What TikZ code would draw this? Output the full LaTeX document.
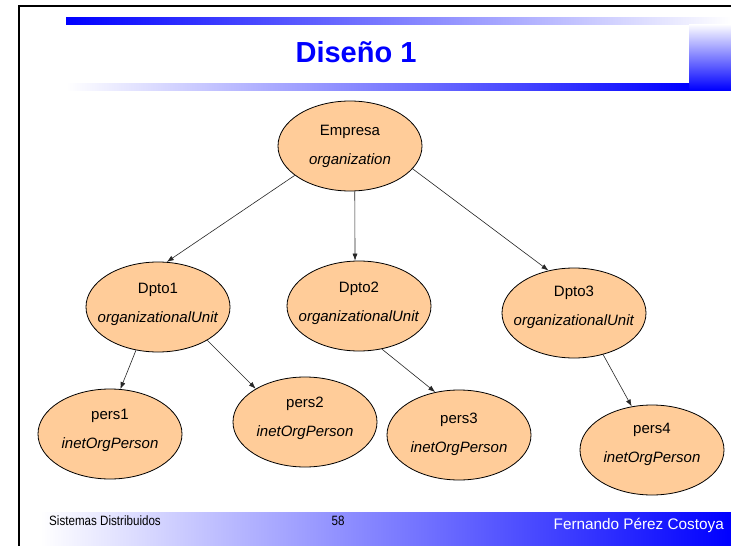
\documentclass[tikz,border=0pt]{standalone}
\usepackage{fontspec}
\setmainfont{Liberation Sans}
\newfontfamily\narrowfont[FakeStretch=0.86]{Liberation Sans}
\usetikzlibrary{shapes.geometric,arrows.meta}
\definecolor{peach}{HTML}{FFCC99}
\definecolor{slideblue}{RGB}{0,0,255}
\begin{document}
\begin{tikzpicture}[x=1pt,y=1pt,
 ent/.style={ellipse,draw=black,line width=0.8pt,fill=peach,minimum width=144pt,minimum height=90pt,inner sep=0pt},
 lbl/.style={align=center,inner sep=0pt,font=\fontsize{15}{29}\selectfont},
 arr/.style={draw=black!85,line width=0.6pt,-{Latex[length=7pt,width=5pt]}},
 foot/.style={inner sep=0pt,anchor=base west,font=\narrowfont\fontsize{13.5}{16}\selectfont}
]
\useasboundingbox (0,0) rectangle (731,-546);
\fill[white] (0,0) rectangle (731,-546);
% header bars
\shade[left color=slideblue,right color=white] (66,-17) rectangle (731,-24);
\shade[top color=white,bottom color=slideblue] (689,-24) rectangle (731,-90);
\shade[left color=white,right color=slideblue] (66,-83) rectangle (689,-90);
% footer band
\shade[left color=white,right color=slideblue] (40,-512) rectangle (731,-546);
% frame
\draw[line width=2pt] (19,-546) -- (19,-6) -- (731,-6);
% title
\node[anchor=base,text=slideblue,font=\bfseries\fontsize{29}{34}\selectfont,inner sep=0pt] (title) at (356,-62) {Diseño 1};
% entries
\node[ent] (emp) at (350,-146) {};
\node[ent] (d1) at (158,-307) {};
\node[ent] (d2) at (359,-306) {};
\node[ent] (d3) at (574,-313) {};
\node[ent] (p1) at (110,-434) {};
\node[ent] (p2) at (305,-422) {};
\node[ent] (p3) at (459,-435) {};
\node[ent] (p4) at (652,-450) {};
\node[lbl] (empT) at (350,-146) {Empresa\\\textit{organization}};
\node[lbl] (d1T) at (158,-304) {Dpto1\\\textit{organizationalUnit}};
\node[lbl] (d2T) at (359,-303) {Dpto2\\\textit{organizationalUnit}};
\node[lbl] (d3T) at (574,-307) {Dpto3\\\textit{organizationalUnit}};
\node[lbl] (p1T) at (110,-430) {pers1\\\textit{inetOrgPerson}};
\node[lbl] (p2T) at (305,-418) {pers2\\\textit{inetOrgPerson}};
\node[lbl] (p3T) at (459,-434) {pers3\\\textit{inetOrgPerson}};
\node[lbl] (p4T) at (652,-444) {pers4\\\textit{inetOrgPerson}};
% connectors
\draw[arr] (emp.208) -- (d1.79);
\draw[arr] (emp.276) -- (d2.95);
\draw[arr] (emp.340) -- (d3.121);
\draw[arr] (d1.243) -- (p1.77);
\draw[arr] (d1.326) -- (p2.146);
\draw[arr] (d2.298) -- (p3.119);
\draw[arr] (d3.305) -- (p4.115);
% footer texts
\node[foot] (ft1) at (49,-525) {Sistemas Distribuidos};
\node[foot,anchor=base] (ft2) at (338,-525) {58};
\node[anchor=base east,text=white,font=\fontsize{15.3}{18}\selectfont,inner sep=0pt] (ft3) at (724,-529) {Fernando Pérez Costoya};
\end{tikzpicture}
\end{document}
